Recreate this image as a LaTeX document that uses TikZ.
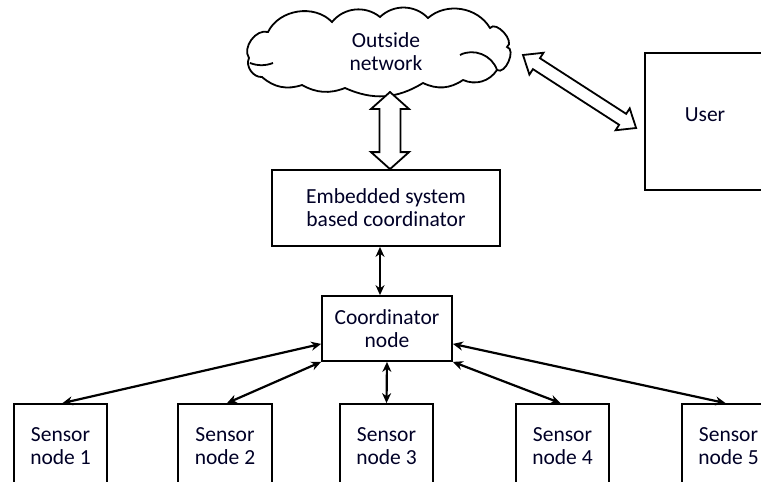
\documentclass[tikz,border=0pt]{standalone}
\usepackage{fontspec}
\setmainfont{Carlito}
\usetikzlibrary{arrows.meta,calc}
\newcommand{\fatarrowdraw}[5]{% #1,#2 tips; #3 head length; #4 head half width; #5 shaft half width
  \draw[fatline]
    (#1) -- ($($(#1)!#3!(#2)$)!#4!90:(#2)$) -- ($($(#1)!#3!(#2)$)!#5!90:(#2)$)
    -- ($($(#2)!#3!(#1)$)!#5!-90:(#1)$) -- ($($(#2)!#3!(#1)$)!#4!-90:(#1)$)
    -- (#2) -- ($($(#2)!#3!(#1)$)!#4!90:(#1)$) -- ($($(#2)!#3!(#1)$)!#5!90:(#1)$)
    -- ($($(#1)!#3!(#2)$)!#5!-90:(#2)$) -- ($($(#1)!#3!(#2)$)!#4!-90:(#2)$) -- cycle;}
\begin{document}
\begin{tikzpicture}[x=1pt,y=-1pt,
  lbl/.style={font=\fontsize{21.5}{23}\selectfont, align=center, text=black!85!blue},
  box/.style={draw, line width=1.8pt, rectangle, inner sep=0pt, lbl},
  conn/.style={line width=2.2pt, {Stealth[length=10pt,width=9pt]}-{Stealth[length=10pt,width=9pt]}},
  fatline/.style={draw, line width=1.8pt, fill=white, line join=miter},
  cloudline/.style={draw, line width=1.8pt}]
\useasboundingbox (0,0) rectangle (761,482);
\clip (0,0) rectangle (761,482);
% cloud outline
\draw[cloudline] (262,77) to[bend left=60] (249,58) to[bend left=70] (268,32)
  to[bend left=55] (332,22) to[bend left=45] (380,17) to[bend left=45] (428,18)
  to[bend left=50] (490,28) to[bend left=100] (507,47) to[bend left=100] (497,70)
  to[bend left=40] (463,80) to[bend left=30] (423,83) to[bend left=28] (345,88)
  to[bend left=25] (302,85) to[bend left=30] (262,77) -- cycle;
\draw[cloudline] (460,55) to[bend left=50] (497,70);
\draw[cloudline] (250,63) to[bend right=20] (273,63);
\node[lbl] (cloud) at (386,51.5) {Outside\\network};
\node[box, minimum width=228pt, minimum height=76pt] (emb) at (386,208) {Embedded system\\based coordinator};
\node[box, minimum width=130pt, minimum height=65pt] (coord) at (387,328.5) {Coordinator\\node};
\node[box, minimum width=120pt, minimum height=137pt] (user) at (705,121.5) {};
\node[lbl] (usertext) at (705,115) {User};
\node[box, minimum width=93pt, minimum height=84pt] (s1) at (60.5,446) {Sensor\\node 1};
\node[box, minimum width=94pt, minimum height=84pt] (s2) at (225,446) {Sensor\\node 2};
\node[box, minimum width=93pt, minimum height=84pt] (s3) at (386.5,446) {Sensor\\node 3};
\node[box, minimum width=93pt, minimum height=84pt] (s4) at (562.5,446) {Sensor\\node 4};
\node[box, minimum width=93pt, minimum height=84pt] (s5) at (728.5,446) {Sensor\\node 5};
% wide double arrows
\coordinate (vt) at (390,92);
\coordinate (vb) at ([xshift=4pt]emb.north);
\fatarrowdraw{vt}{vb}{17pt}{19pt}{10.5pt}
\coordinate (dt) at (523,55);
\coordinate (db) at ([xshift=-8pt,yshift=-6.5pt]user.west);
\fatarrowdraw{dt}{db}{16pt}{13pt}{6.5pt}
% connectors
\draw[conn] ([xshift=-6pt]emb.south) -- ([xshift=-7pt]coord.north);
\draw[conn] ([yshift=18pt]coord.south west) -- ([xshift=2pt]s1.north);
\draw[conn] (coord.south west) -- ([xshift=2pt]s2.north);
\draw[conn] (coord.south) -- (s3.north);
\draw[conn] (coord.south east) -- ([xshift=-2pt]s4.north);
\draw[conn] ([yshift=18pt]coord.south east) -- ([xshift=-3pt]s5.north);
\end{tikzpicture}
\end{document}
